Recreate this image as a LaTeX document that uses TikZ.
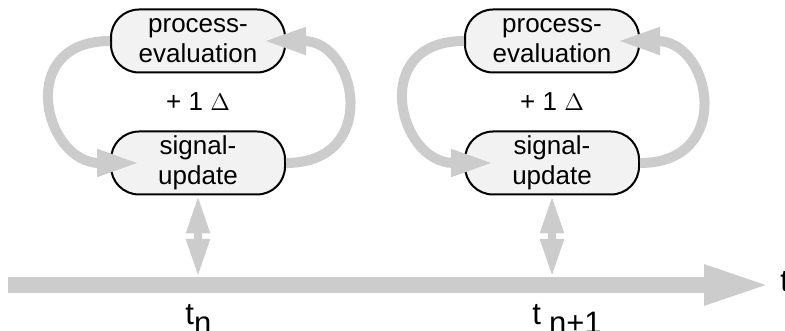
\documentclass[tikz,border=0pt]{standalone}
\usepackage{fontspec}
\setmainfont{Liberation Sans}
\usetikzlibrary{arrows.meta,positioning,calc}
\definecolor{flowgray}{RGB}{204,204,204}
\definecolor{boxgray}{RGB}{242,242,242}

\begin{document}
\begin{tikzpicture}[x=0.5pt, y=0.5pt, node distance=61pt,
  phase/.style={draw, line width=1pt, fill=boxgray, rounded corners=14pt,
                minimum width=87pt, minimum height=31.5pt, inner sep=0pt,
                align=center, font=\fontsize{13}{15}\selectfont},
  cycle/.style={draw=flowgray, line width=5pt, -{Triangle[length=21.5pt,width=12.5pt]}},
  sync/.style={draw=flowgray, line width=4pt,
               {Triangle[length=19pt,width=11pt]}-{Triangle[length=19pt,width=11pt]}},
  time/.style={draw=flowgray, line width=8pt, -{Triangle[length=34pt,width=18pt]}},
  lbl/.style={font=\fontsize{15.5}{17}\selectfont, inner sep=0pt}]
  \useasboundingbox (0,0) rectangle (785,331);

  \node[phase] (pe1) at (198,290)                     {process-\\evaluation};
  \node[phase] (su1) [below of=pe1]                   {signal-\\update};
  \node[phase] (pe2) [right of=pe1, node distance=177pt] {process-\\evaluation};
  \node[phase] (su2) [below of=pe2]                   {signal-\\update};

  \node[font=\fontsize{13}{15}\selectfont] (d1) at ($(pe1)!0.5!(su1)$) {+ 1 $\Delta$};
  \node[font=\fontsize{13}{15}\selectfont] (d2) at ($(pe2)!0.5!(su2)$) {+ 1 $\Delta$};

  % time axis
  \coordinate (t0)  at (8,46);
  \coordinate (t1)  at (772,46);
  \coordinate (top) at (0,54);
  \draw[time] (t0) -- (t1);
  \node[lbl, anchor=west] (t) at (780,49) {t};

  \node[lbl, anchor=base west] (tn)  at (185,6) {t\raisebox{-4.5pt}{n}};
  \node[lbl, anchor=base west] (tn1) at (532,6) {t\hspace{4pt}\raisebox{-4.5pt}{n+1}};

  % delta cycles
  \foreach \p/\s in {pe1/su1, pe2/su2} {
    \draw[cycle] (\p.west) to[out=180, in=180, looseness=1.95] ([xshift=15pt]\s.west);
    \draw[cycle] (\s.east) to[out=0, in=0, looseness=1.95] ([xshift=-11.5pt]\p.east);
    \draw[sync]  (\s.south) -- (\s.south |- top);
  }
\end{tikzpicture}
\end{document}
